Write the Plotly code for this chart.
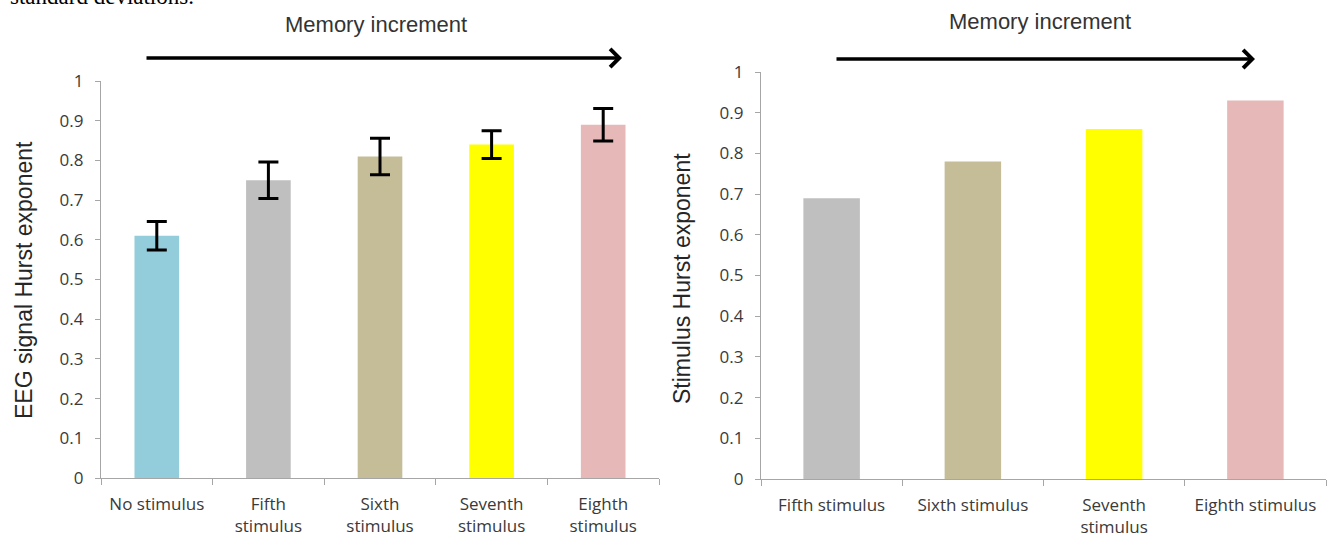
import plotly.graph_objects as go

# ---- data ----
left_categories = ["No stimulus", "Fifth<br>stimulus", "Sixth<br>stimulus", "Seventh<br>stimulus", "Eighth<br>stimulus"]
left_values = [0.61, 0.75, 0.81, 0.84, 0.89]
left_errors = [0.036, 0.046, 0.046, 0.035, 0.041]
left_colors = ["#93CDDC", "#BFBFBF", "#C4BD97", "#FFFF00", "#E6B9B8"]

right_categories = ["Fifth stimulus", "Sixth stimulus", "Seventh<br>stimulus", "Eighth stimulus"]
right_values = [0.69, 0.78, 0.86, 0.93]
right_colors = ["#BFBFBF", "#C4BD97", "#FFFF00", "#E6B9B8"]

y_tickvals = [0, 0.1, 0.2, 0.3, 0.4, 0.5, 0.6, 0.7, 0.8, 0.9, 1.0]
y_ticktext = ["0", "0.1", "0.2", "0.3", "0.4", "0.5", "0.6", "0.7", "0.8", "0.9", "1"]

W, H = 1343, 541
TICK_FONT = dict(family="Open Sans, Lato, sans-serif", size=17, color="#3a3a3a")
TITLE_FONT = dict(family="Liberation Sans, Arial, sans-serif", size=23, color="#262626")
HEAD_FONT = dict(family="Liberation Sans, Arial, sans-serif", size=22, color="#333333")
AXIS_COLOR = "#A6A6A6"

fig = go.Figure()
fig.add_trace(go.Bar(
    x=left_categories, y=left_values, marker=dict(color=left_colors, line=dict(width=0)),
    width=0.4, xaxis="x", yaxis="y",
    error_y=dict(type="data", array=left_errors, visible=True, color="black", thickness=3, width=10),
    showlegend=False, hoverinfo="skip",
))
fig.add_trace(go.Bar(
    x=right_categories, y=right_values, marker=dict(color=right_colors, line=dict(width=0)),
    width=0.4, xaxis="x2", yaxis="y2", showlegend=False, hoverinfo="skip",
))

def px_x(p):
    return p / W

def px_y(p):
    return 1 - p / H

xaxis_common = dict(
    type="category", showline=True, linecolor=AXIS_COLOR, linewidth=1.3,
    ticks="outside", tickson="boundaries", ticklen=6, tickcolor=AXIS_COLOR,
    tickfont=TICK_FONT, showgrid=False, zeroline=False, automargin=False, fixedrange=True,
    ticklabelstandoff=10,
)
yaxis_common = dict(
    range=[0, 1], tickvals=y_tickvals, ticktext=y_ticktext, showline=True,
    linecolor=AXIS_COLOR, linewidth=1.3, ticks="outside", ticklen=5, tickcolor=AXIS_COLOR,
    tickfont=TICK_FONT, showgrid=False, zeroline=False, automargin=False, fixedrange=True,
    ticklabelstandoff=8,
)

fig.update_layout(
    width=W, height=H,
    margin=dict(l=0, r=0, t=0, b=0),
    paper_bgcolor="white", plot_bgcolor="white",
    xaxis=dict(domain=[px_x(101), px_x(659)], anchor="y", **xaxis_common),
    yaxis=dict(domain=[px_y(478), px_y(81)], anchor="x", **yaxis_common),
    xaxis2=dict(domain=[px_x(761), px_x(1326)], anchor="y2", **xaxis_common),
    yaxis2=dict(domain=[px_y(479), px_y(72)], anchor="x2", **yaxis_common),
)

annotations = [
    # y-axis titles
    dict(text="EEG signal Hurst exponent", xref="paper", yref="paper",
         x=px_x(24), y=px_y(280), textangle=-90, showarrow=False,
         xanchor="center", yanchor="middle", font=TITLE_FONT),
    dict(text="Stimulus Hurst exponent", xref="paper", yref="paper",
         x=px_x(682), y=px_y(278), textangle=-90, showarrow=False,
         xanchor="center", yanchor="middle", font=TITLE_FONT),
    # "Memory increment" labels
    dict(text="Memory increment", xref="paper", yref="paper",
         x=px_x(376), y=px_y(24), showarrow=False, xanchor="center", yanchor="middle",
         font=HEAD_FONT),
    dict(text="Memory increment", xref="paper", yref="paper",
         x=px_x(1040), y=px_y(22), showarrow=False, xanchor="center", yanchor="middle",
         font=HEAD_FONT),
    # arrows
    dict(text="", xref="paper", yref="paper", axref="pixel", ayref="pixel",
         x=px_x(622), y=px_y(58), ax=-(622 - 145), ay=0,
         showarrow=True, arrowhead=4, arrowsize=1, arrowwidth=3.5, arrowcolor="black", standoff=0),
    dict(text="", xref="paper", yref="paper", axref="pixel", ayref="pixel",
         x=px_x(1255), y=px_y(59), ax=-(1255 - 835), ay=0,
         showarrow=True, arrowhead=4, arrowsize=1, arrowwidth=3.5, arrowcolor="black", standoff=0),
    # caption line at the very top (clipped by the page edge, as in the source image)
    dict(text="standard deviations.", xref="paper", yref="paper",
         x=px_x(8), y=px_y(11), showarrow=False, xanchor="left", yanchor="bottom",
         font=dict(family="Liberation Serif, Times New Roman, serif", size=23, color="black")),
]
fig.update_layout(annotations=annotations)

fig.write_html("out.html", config={"displayModeBar": False},
               post_script="document.body.style.margin='0px';")
